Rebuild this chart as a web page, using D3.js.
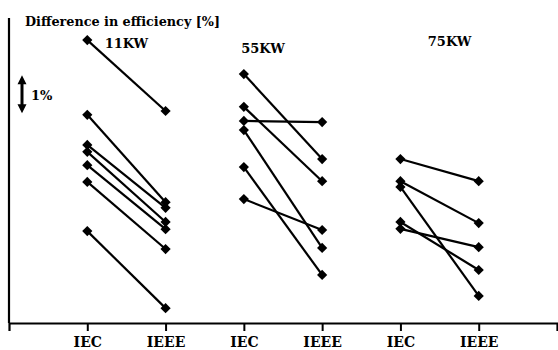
<!DOCTYPE html>
<html>
<head>
<meta charset="utf-8">
<script src="https://cdn.jsdelivr.net/npm/d3@7"></script>
<style>
  body { margin: 0; background: #fff; }
  svg text { font-family: "DejaVu Serif", "Liberation Serif", serif !important; font-weight: bold; }
</style>
</head>
<body>
<div id="chart"></div>
<script>
// categories on the x axis
const methods = ['IEC', 'IEEE', 'IEC', 'IEEE', 'IEC', 'IEEE'];
const groups = ['11KW', '55KW', '75KW'];

// difference in efficiency [%] per motor, IEC value then IEEE value
const iec11 = [7.42, 5.46, 4.67, 4.49, 4.14, 3.70, 2.41];
const ieee11 = [5.56, 3.17, 3.02, 2.65, 2.46, 1.94, 0.39];
const iec55 = [6.53, 5.67, 5.30, 5.06, 4.09, 3.25];
const ieee55 = [4.30, 3.72, 5.27, 1.97, 1.26, 2.44];
const iec75 = [4.30, 3.72, 3.57, 2.65, 2.47];
const ieee75 = [3.72, 2.62, 0.71, 1.39, 1.99];

const width = 558, height = 350;
const margin = {top: 18, right: 1, bottom: 27, left: 9};

const svg = d3.select('#chart')
  .append('svg')
    .attr('width', width)
    .attr('height', height);

const x = d3.scaleLinear()
  .domain([0, methods.length + 1])
  .range([margin.left, width - margin.right]);

const y = d3.scaleLinear()
  .domain([0, 8])
  .range([height - margin.bottom, margin.top]);

// x axis
const xAxis = svg.append('g')
  .attr('transform', 'translate(0,' + y(0) + ')')
  .call(d3.axisBottom(x)
    .tickValues(d3.range(1, methods.length + 1))
    .tickFormat(i => methods[i - 1])
    .tickSize(8)
    .tickPadding(6));
xAxis.select('.domain').attr('stroke-width', 2.2);
xAxis.selectAll('.tick line').attr('stroke-width', 2);
xAxis.selectAll('.tick text')
  .attr('font-size', 14)
  .attr('fill', '#000');

// y axis line only
svg.append('line')
  .attr('x1', x(0)).attr('x2', x(0))
  .attr('y1', y(8)).attr('y2', y(0))
  .attr('stroke', '#000')
  .attr('stroke-width', 2.2);

svg.append('text')
  .attr('x', 25)
  .attr('y', 26)
  .attr('font-size', 13)
  .attr('textLength', 195)
  .attr('lengthAdjust', 'spacingAndGlyphs')
  .text('Difference in efficiency [%]');

// 1% scale arrow
const ax = 22, a0 = 5.5, a1 = 6.5;
svg.append('line')
  .attr('x1', ax).attr('x2', ax)
  .attr('y1', y(a1) + 6).attr('y2', y(a0) - 6)
  .attr('stroke', '#000')
  .attr('stroke-width', 3);
svg.append('path')
  .attr('d', `M${ax - 4.5},${y(a1) + 9}L${ax},${y(a1)}L${ax + 4.5},${y(a1) + 9}Z`
    + `M${ax - 4.5},${y(a0) - 9}L${ax},${y(a0)}L${ax + 4.5},${y(a0) - 9}Z`)
  .attr('fill', '#000');
svg.append('text')
  .attr('x', 31)
  .attr('y', y(6) + 6)
  .attr('font-size', 13)
  .text('1%');

const pairs = [
  {iec: iec11, ieee: ieee11, col: 1},
  {iec: iec55, ieee: ieee55, col: 3},
  {iec: iec75, ieee: ieee75, col: 5}
];

// group labels
const labelPos = [{dx: 0, yy: 48}, {dx: -20, yy: 53}, {dx: 10, yy: 46}];
svg.selectAll('.group')
  .data(groups)
  .enter()
  .append('text')
    .attr('class', 'group')
    .attr('x', (d, i) => x(pairs[i].col + 0.5) + labelPos[i].dx)
    .attr('y', (d, i) => labelPos[i].yy)
    .attr('text-anchor', 'middle')
    .attr('font-size', 13)
    .text(d => d);

const diamond = d3.symbol().type(d3.symbolSquare).size(52);

pairs.forEach(p => {
  const g = svg.append('g');
  const segs = p.iec.map((v, i) => ({a: v, b: p.ieee[i]}));
  g.selectAll('line')
    .data(segs)
    .enter()
    .append('line')
      .attr('x1', x(p.col))
      .attr('x2', x(p.col + 1))
      .attr('y1', d => y(d.a))
      .attr('y2', d => y(d.b))
      .attr('stroke', '#000')
      .attr('stroke-width', 2.2);
  const pts = segs.flatMap(d => [{c: p.col, v: d.a}, {c: p.col + 1, v: d.b}]);
  g.selectAll('path')
    .data(pts)
    .enter()
    .append('path')
      .attr('d', diamond)
      .attr('transform', d => `translate(${x(d.c)},${y(d.v)}) rotate(45)`)
      .attr('fill', '#000');
});
</script>
</body>
</html>
